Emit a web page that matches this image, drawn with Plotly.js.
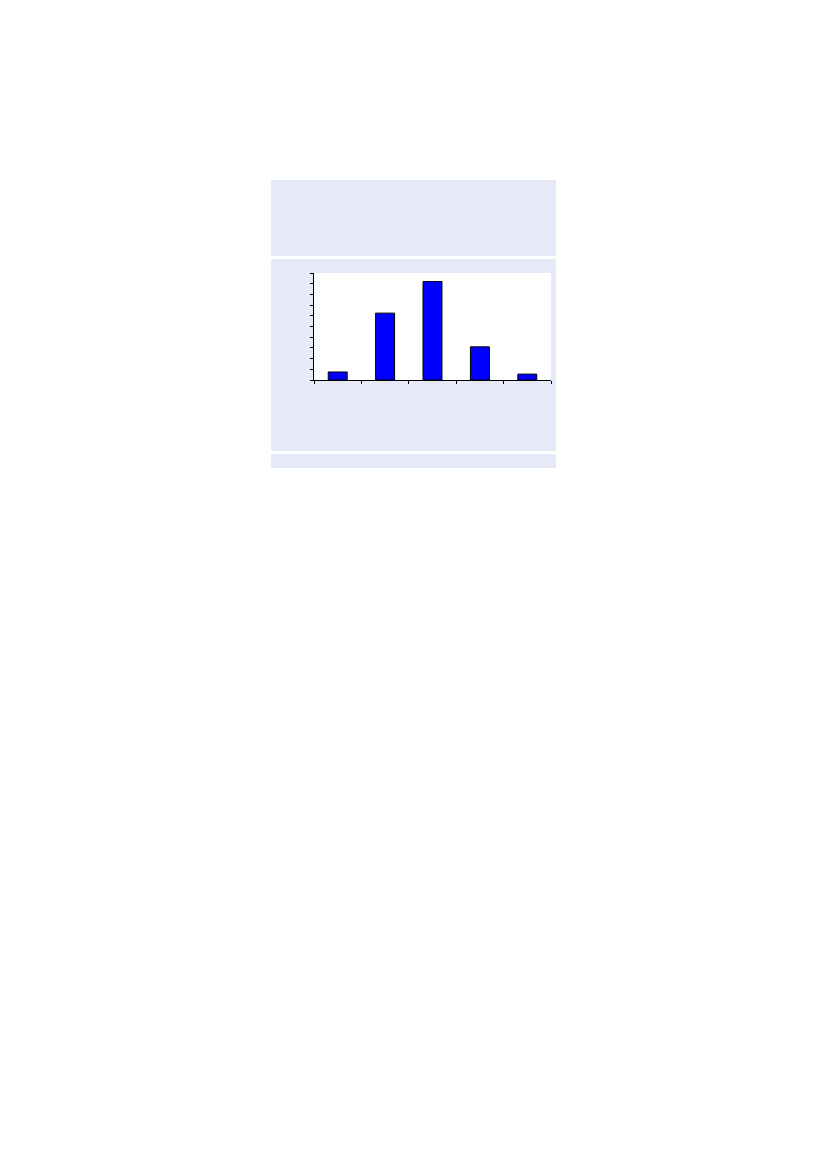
<!DOCTYPE html>
<html>
<head>
<meta charset="utf-8">
<script src="https://cdn.plot.ly/plotly-3.0.1.min.js"></script>
<style>
  html, body { margin: 0; padding: 0; background: #ffffff; }
  #chart { width: 827px; height: 1169px; }
</style>
</head>
<body>
<div id="chart"></div>
<script>
'use strict';

// bar values (axis 0..10, no labels shown)
var categories = ['1', '2', '3', '4', '5'];
var counts = [0.75, 6.25, 9.2, 3.1, 0.55];
var yTicks = [0, 1, 2, 3, 4, 5, 6, 7, 8, 9, 10];

var W = 827, H = 1169;
var PLOT = { left: 314, right: 551, top: 273, bottom: 380 };

// pixel -> paper helpers, for the background panels only
function px(x) { return (x - PLOT.left) / (PLOT.right - PLOT.left); }
function py(y) { return (PLOT.bottom - y) / (PLOT.bottom - PLOT.top); }

var PANEL = '#e6eaf8';

function panel(x0, y0, x1, y1, color) {
    return {
        type: 'rect', xref: 'paper', yref: 'paper', layer: 'below',
        x0: px(x0), x1: px(x1), y0: py(y1), y1: py(y0),
        fillcolor: color, line: { width: 0 }
    };
}

var trace = {
    type: 'bar',
    x: categories,
    y: counts,
    width: 0.4,
    marker: { color: '#0000ff', line: { color: '#000000', width: 1 } },
    hoverinfo: 'none'
};

var layout = {
    width: W,
    height: H,
    margin: { l: PLOT.left, r: W - PLOT.right, t: PLOT.top, b: H - PLOT.bottom, pad: 0 },
    paper_bgcolor: '#ffffff',
    plot_bgcolor: 'rgba(0,0,0,0)',
    showlegend: false,
    xaxis: {
        type: 'category',
        tickson: 'boundaries',
        ticks: 'outside', ticklen: 3, tickcolor: '#000000', tickwidth: 1,
        showticklabels: false,
        showline: true, linecolor: '#000000', linewidth: 1,
        showgrid: false, zeroline: false,
        range: [-0.5, 4.5]
    },
    yaxis: {
        range: [0, 10],
        tickvals: yTicks,
        ticks: 'outside', ticklen: 3, tickcolor: '#000000', tickwidth: 1,
        showticklabels: false,
        showline: true, linecolor: '#000000', linewidth: 1,
        showgrid: false, zeroline: false
    },
    shapes: [
        panel(271, 180, 556, 256, PANEL),
        panel(271, 259, 556, 451, PANEL),
        panel(271, 454, 556, 468, PANEL),
        panel(PLOT.left, PLOT.top, PLOT.right, PLOT.bottom, '#ffffff')
    ]
};

Plotly.newPlot('chart', [trace], layout, { displayModeBar: false, staticPlot: true });
</script>
</body>
</html>
